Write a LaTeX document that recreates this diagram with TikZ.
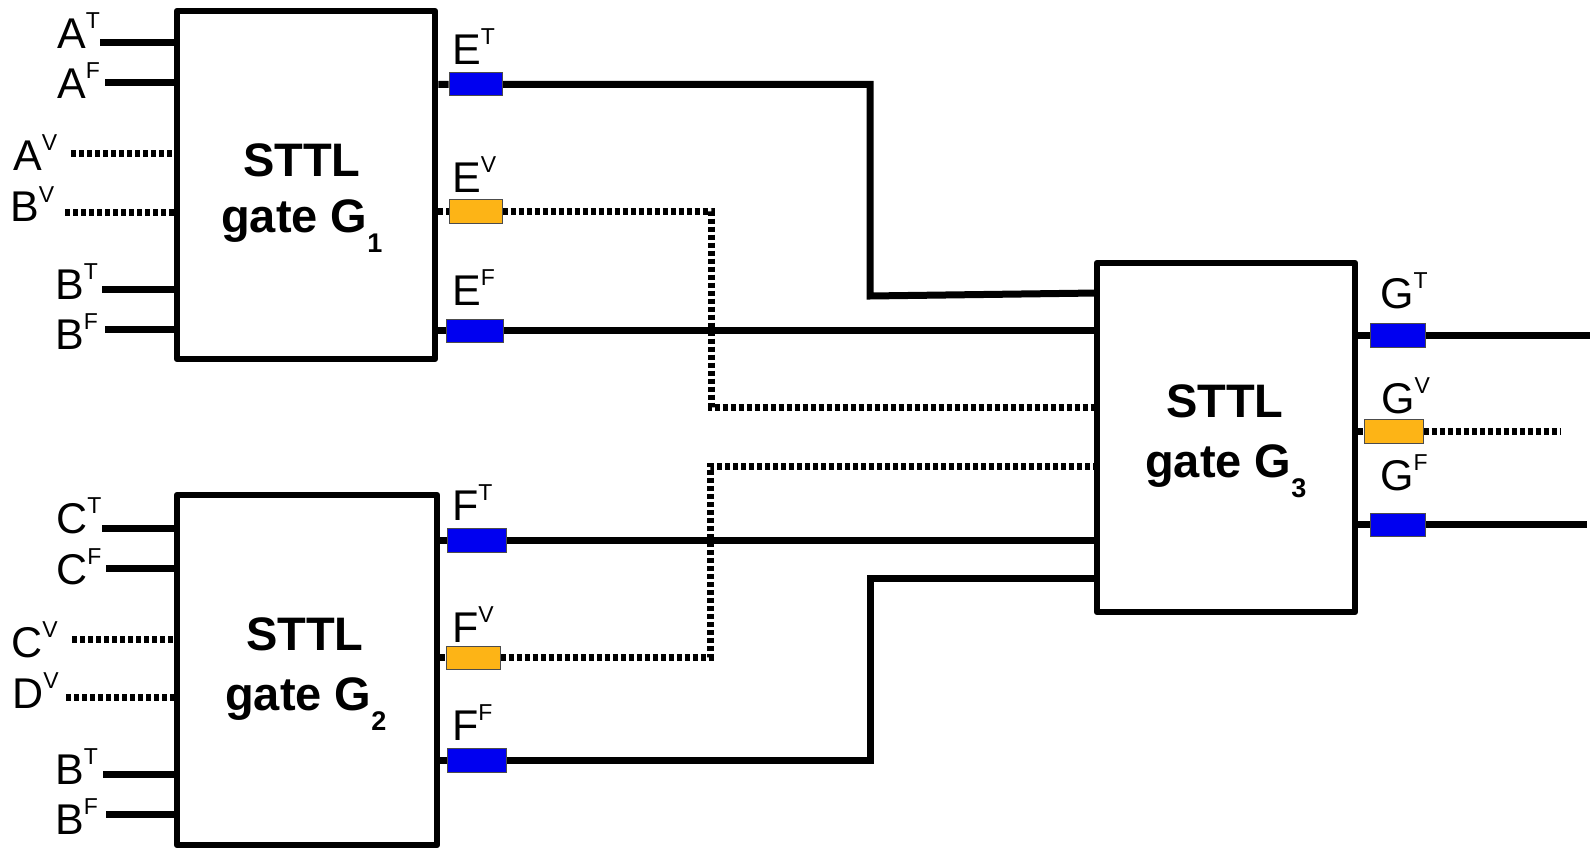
\documentclass[tikz,border=0pt]{standalone}
\usepackage{fontspec}
\setmainfont{Liberation Sans}
\usetikzlibrary{backgrounds}
\definecolor{sigblue}{RGB}{0,0,240}
\definecolor{sigorange}{RGB}{253,180,22}
\newcommand{\mysup}[1]{\raisebox{20pt}{\fontsize{23}{24}\selectfont #1}}
\newcommand{\mysub}[1]{\raisebox{-20pt}{\fontsize{27}{28}\selectfont\bfseries #1}}
\begin{document}
\begin{tikzpicture}[x=1pt,y=-1pt,
  gate/.style={draw, line width=6.5pt, fill=white, inner sep=0pt, line join=round},
  sig/.style={draw=black!70, line width=1pt, inner sep=0pt},
  tsig/.style={sig, fill=sigblue},
  vsig/.style={sig, fill=sigorange},
  wire/.style={line width=7pt},
  vwire/.style={line width=7pt, dash pattern=on 5pt off 3pt},
  lbl/.style={inner sep=0pt, anchor=base west, font=\fontsize{43}{50}\selectfont},
  gtxt/.style={inner sep=0pt, anchor=base west, font=\bfseries\fontsize{47}{50}\selectfont}]
\useasboundingbox (0,0) rectangle (1591,848);

% gates
\node[gate, minimum width=258pt, minimum height=348pt] (G1) at (306,185) {};
\node[gate, minimum width=260pt, minimum height=350pt] (G2) at (307,670) {};
\node[gate, minimum width=258pt, minimum height=349pt] (G3) at (1226,437.5) {};

\node[gtxt] (t1a) at (243,177) {STTL};
\node[gtxt] (t1b) at (221,233) {gate G\mysub{1}};
\node[gtxt] (t2a) at (246,650) {STTL};
\node[gtxt] (t2b) at (225,710) {gate G\mysub{2}};
\node[gtxt] (t3a) at (1166,417) {STTL};
\node[gtxt] (t3b) at (1145,477) {gate G\mysub{3}};

% output signal pads
\node[tsig, minimum width=53pt, minimum height=23pt] (ET) at (475.5,84.5) {};
\node[vsig, minimum width=53pt, minimum height=24pt] (EV) at (475.5,211) {};
\node[tsig, minimum width=57pt, minimum height=23pt] (EF) at (474.5,330.5) {};
\node[tsig, minimum width=59pt, minimum height=24pt] (FT) at (476.5,540) {};
\node[vsig, minimum width=54pt, minimum height=23pt] (FV) at (473,657.5) {};
\node[tsig, minimum width=59pt, minimum height=24pt] (FF) at (476.5,760) {};
\node[tsig, minimum width=55pt, minimum height=24pt] (GT) at (1397.5,335) {};
\node[vsig, minimum width=59pt, minimum height=24pt] (GV) at (1393.5,431) {};
\node[tsig, minimum width=55pt, minimum height=23pt] (GF) at (1397.5,524.5) {};

% output labels
\node[lbl] (lET) at (452,65) {E\mysup{T}};
\node[lbl] (lEV) at (452,193) {E\mysup{V}};
\node[lbl] (lEF) at (452,305) {E\mysup{F}};
\node[lbl] (lFT) at (452,520) {F\mysup{T}};
\node[lbl] (lFV) at (452,642) {F\mysup{V}};
\node[lbl] (lFF) at (452,740) {F\mysup{F}};
\node[lbl] (lGT) at (1380,308) {G\mysup{T}};
\node[lbl] (lGV) at (1381,413) {G\mysup{V}};
\node[lbl] (lGF) at (1380,490) {G\mysup{F}};

% input labels
\node[lbl] (lAT) at (57,49) {A\mysup{T}};
\node[lbl] (lAF) at (57,99) {A\mysup{F}};
\node[lbl] (lAV) at (13,171) {A\mysup{V}};
\node[lbl] (lBV) at (10,222) {B\mysup{V}};
\node[lbl] (lBT1) at (55,299) {B\mysup{T}};
\node[lbl] (lBF1) at (55,349) {B\mysup{F}};
\node[lbl] (lCT) at (56,533) {C\mysup{T}};
\node[lbl] (lCF) at (56,584) {C\mysup{F}};
\node[lbl] (lCV) at (11,657) {C\mysup{V}};
\node[lbl] (lDV) at (12,708) {D\mysup{V}};
\node[lbl] (lBT2) at (55,784) {B\mysup{T}};
\node[lbl] (lBF2) at (55,834) {B\mysup{F}};

% input wire start points
\coordinate (sAT) at (100,43);
\coordinate (sAF) at (105,83);
\coordinate (sAV) at (71,154);
\coordinate (sBV) at (65,212);
\coordinate (sBT1) at (102,289);
\coordinate (sBF1) at (105,329);
\coordinate (sCT) at (102,528);
\coordinate (sCF) at (106,568);
\coordinate (sCV) at (72,639);
\coordinate (sDV) at (66,697);
\coordinate (sBT2) at (103,774);
\coordinate (sBF2) at (106,814);

% bend points and free ends
\coordinate (bE1) at (870,84.5);
\coordinate (bE2) at (870,296);
\coordinate (iET) at (1097,293);
\coordinate (bV1) at (711,211);
\coordinate (bV2) at (711,407);
\coordinate (iEV) at (1097,407);
\coordinate (iEF) at (1097,330.5);
\coordinate (iFT) at (1097,540);
\coordinate (bW1) at (710,657.5);
\coordinate (bW2) at (710,466);
\coordinate (iFV) at (1097,466);
\coordinate (bF1) at (870,760);
\coordinate (bF2) at (870,578);
\coordinate (iFF) at (1097,578);
\coordinate (oGT) at (1590,335);
\coordinate (oGV) at (1560,431);
\coordinate (oGF) at (1587,524.5);

\begin{pgfonlayer}{background}
  % inputs G1
  \draw[wire] (sAT) -- (G1.west |- sAT);
  \draw[wire] (sAF) -- (G1.west |- sAF);
  \draw[vwire] (sAV) -- (G1.west |- sAV);
  \draw[vwire] (sBV) -- (G1.west |- sBV);
  \draw[wire] (sBT1) -- (G1.west |- sBT1);
  \draw[wire] (sBF1) -- (G1.west |- sBF1);
  % inputs G2
  \draw[wire] (sCT) -- (G2.west |- sCT);
  \draw[wire] (sCF) -- (G2.west |- sCF);
  \draw[vwire] (sCV) -- (G2.west |- sCV);
  \draw[vwire] (sDV) -- (G2.west |- sDV);
  \draw[wire] (sBT2) -- (G2.west |- sBT2);
  \draw[wire] (sBF2) -- (G2.west |- sBF2);
  % G1 -> G3
  \draw[wire] (G1.east |- bE1) -- (ET) -- (bE1) -- (bE2) -- (iET);
  \draw[vwire] (G1.east |- bV1) -- (EV) -- (bV1) -- (bV2) -- (iEV);
  \draw[wire] (G1.east |- iEF) -- (EF) -- (iEF);
  % G2 -> G3
  \draw[wire] (G2.east |- iFT) -- (FT) -- (iFT);
  \draw[vwire] (G2.east |- bW1) -- (FV) -- (bW1) -- (bW2) -- (iFV);
  \draw[wire] (G2.east |- bF1) -- (FF) -- (bF1) -- (bF2) -- (iFF);
  % G3 outputs
  \draw[wire] (G3.east |- oGT) -- (GT) -- (oGT);
  \draw[vwire] (G3.east |- oGV) -- (GV) -- (oGV);
  \draw[wire] (G3.east |- oGF) -- (GF) -- (oGF);
\end{pgfonlayer}
\end{tikzpicture}
\end{document}
